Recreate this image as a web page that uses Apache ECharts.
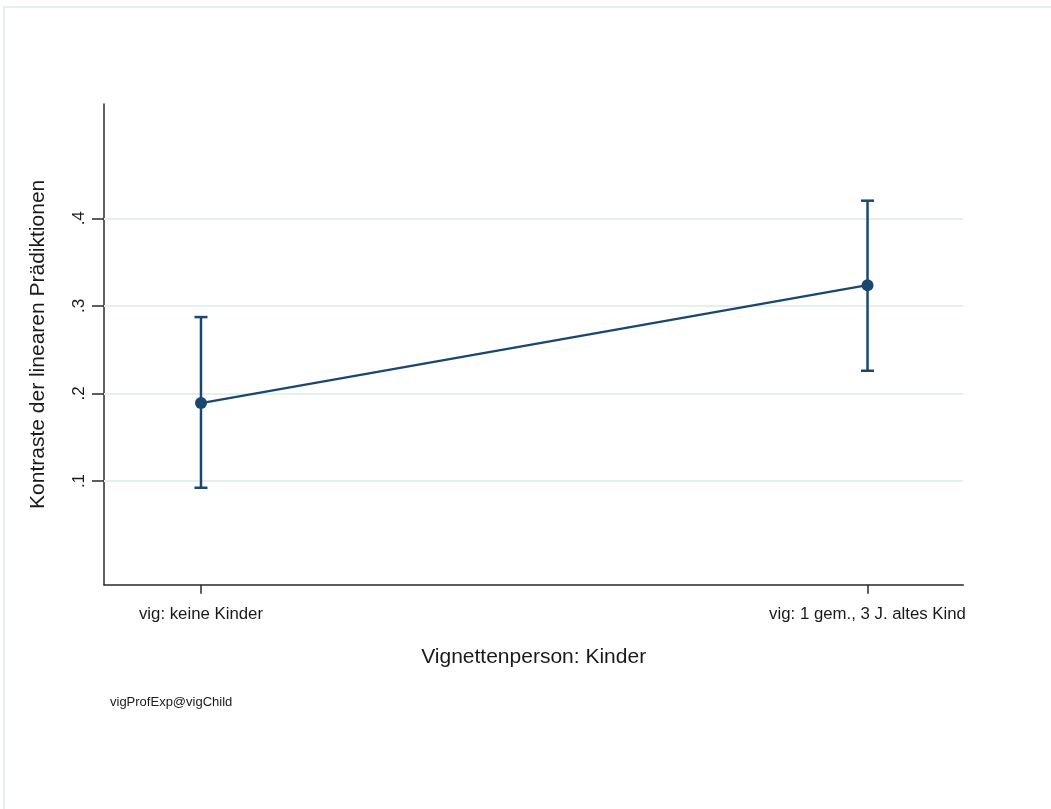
<!DOCTYPE html>
<html>
<head>
<meta charset="utf-8">
<script src="https://cdn.jsdelivr.net/npm/echarts@6/dist/echarts.min.js"></script>
<style>
html,body{margin:0;padding:0;background:#fff;}
#chart{width:1051px;height:809px;}
</style>
</head>
<body>
<div id="chart"></div>
<script>
// ---- data ----
const categories = ['vig: keine Kinder', 'vig: 1 gem., 3 J. altes Kind'];
const positions = [1, 2];
const estimates = [0.189, 0.3236];
const lowerCI = [0.0923, 0.2259];
const upperCI = [0.2872, 0.4201];
const yTickValues = [0.1, 0.2, 0.3, 0.4];
const yTickLabels = ['.1', '.2', '.3', '.4'];
const yTitle = 'Kontraste der linearen Prädiktionen';
const xTitle = 'Vignettenperson: Kinder';
const noteText = 'vigProfExp@vigChild';

const NAVY = '#1a476f';
const GRID = '#e6eff0';
const AXIS = '#2a2a2a';
const FONT = '"Liberation Sans", Arial, sans-serif';

const chart = echarts.init(document.getElementById('chart'), null, {renderer: 'canvas'});

const option = {
  animation: false,
  backgroundColor: '#ffffff',
  textStyle: {fontFamily: FONT},
  grid: {left: 104, top: 104, right: 87.7, bottom: 224.3, containLabel: false, outerBoundsMode: 'none'},
  xAxis: {
    type: 'value',
    min: 0.8545,
    max: 2.1437,
    name: xTitle,
    nameLocation: 'middle',
    nameGap: 62,
    nameTextStyle: {fontSize: 21, color: '#1a1a1a', fontFamily: FONT},
    axisLine: {show: true, onZero: false, lineStyle: {color: AXIS, width: 1.5}},
    axisTick: {show: true, length: 9, customValues: positions, lineStyle: {color: AXIS, width: 1.5}},
    axisLabel: {
      show: true, customValues: positions, margin: 21,
      fontSize: 16.8, color: '#1a1a1a', fontFamily: FONT,
      formatter: v => categories[positions.indexOf(Math.round(v))] || ''
    },
    splitLine: {show: false}
  },
  yAxis: {
    type: 'value',
    min: -0.0184,
    max: 0.5305,
    name: yTitle,
    nameLocation: 'middle',
    nameGap: 55,
    nameRotate: 90,
    nameTextStyle: {fontSize: 21, color: '#1a1a1a', fontFamily: FONT},
    axisLine: {show: true, onZero: false, lineStyle: {color: AXIS, width: 1.5}},
    axisTick: {show: true, length: 12, customValues: yTickValues, lineStyle: {color: AXIS, width: 1.5}},
    axisLabel: {
      show: true, customValues: yTickValues, rotate: 90, margin: 16,
      fontSize: 17, color: '#1a1a1a', fontFamily: FONT,
      formatter: v => {
        const i = yTickValues.findIndex(t => Math.abs(t - v) < 1e-9);
        return i >= 0 ? yTickLabels[i] : '';
      }
    },
    splitLine: {show: false}
  },
  series: [
    {
      type: 'line',
      z: 1,
      data: [],
      silent: true,
      markLine: {
        z: 1,
        silent: true,
        symbol: ['none', 'none'],
        label: {show: false},
        lineStyle: {color: GRID, width: 1.8, type: 'solid'},
        emphasis: {disabled: true},
        data: yTickValues.map(v => ({yAxis: v}))
      }
    },
    {
      type: 'custom',
      z: 3,
      silent: true,
      data: positions.map((x, i) => [x, lowerCI[i], upperCI[i]]),
      encode: {x: 0, y: [1, 2]},
      renderItem: (params, api) => {
        const x = api.value(0);
        const lo = api.coord([x, api.value(1)]);
        const hi = api.coord([x, api.value(2)]);
        const w = 6.5;
        const style = {stroke: NAVY, lineWidth: 2.5, fill: null};
        return {
          type: 'group',
          children: [
            {type: 'line', shape: {x1: lo[0], y1: lo[1], x2: hi[0], y2: hi[1]}, style},
            {type: 'line', shape: {x1: hi[0] - w, y1: hi[1], x2: hi[0] + w, y2: hi[1]}, style},
            {type: 'line', shape: {x1: lo[0] - w, y1: lo[1], x2: lo[0] + w, y2: lo[1]}, style}
          ]
        };
      }
    },
    {
      type: 'line',
      z: 4,
      silent: true,
      data: positions.map((x, i) => [x, estimates[i]]),
      symbol: 'circle',
      symbolSize: 12,
      showSymbol: true,
      itemStyle: {color: NAVY},
      lineStyle: {color: NAVY, width: 2.2}
    }
  ],
  graphic: [
    {
      type: 'rect',
      silent: true,
      shape: {x: 4, y: 7, width: 1200, height: 1000},
      style: {fill: null, stroke: '#e6efee', lineWidth: 2}
    },
    {
      type: 'text',
      left: 110,
      top: 696,
      silent: true,
      style: {text: noteText, fontSize: 13, fill: '#1a1a1a', fontFamily: FONT}
    }
  ]
};

chart.setOption(option);
</script>
</body>
</html>
